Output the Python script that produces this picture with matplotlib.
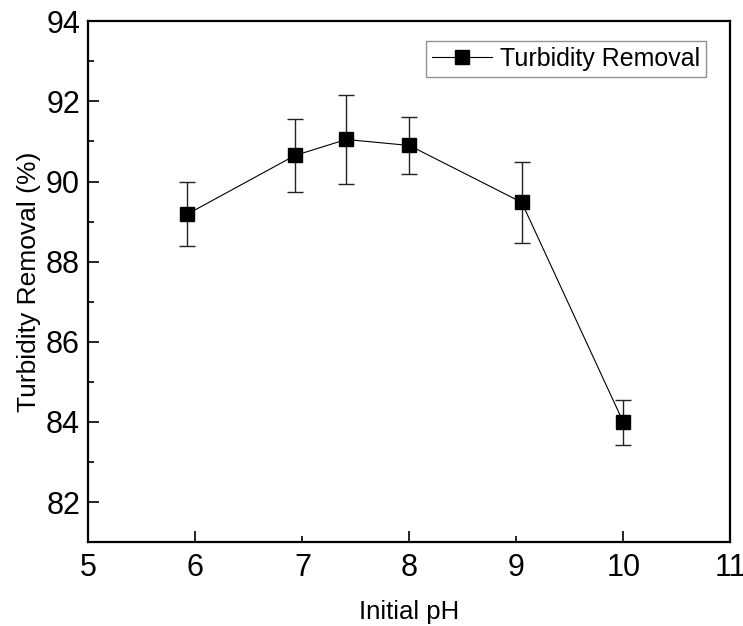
import matplotlib
matplotlib.use('Agg')
import matplotlib.pyplot as plt
from matplotlib.ticker import MultipleLocator

ph = [5.92, 6.93, 7.41, 8.0, 9.05, 10.0]
removal = [89.18, 90.65, 91.05, 90.9, 89.48, 83.99]
err = [0.8, 0.9, 1.1, 0.7, 1.02, 0.56]

plt.rcParams['font.family'] = ['Liberation Sans', 'DejaVu Sans']

fig = plt.figure(figsize=(7.43, 6.26), dpi=100)
ax = fig.add_axes([0.119, 0.134, 0.864, 0.832])

# error bars without a legend entry, then line + markers on top
ax.errorbar(ph, removal, yerr=err, fmt='none', ecolor='#222222',
            elinewidth=1.0, capsize=6, capthick=1.0)
ax.plot(ph, removal, color='black', lw=0.8, marker='s', markersize=10,
        markerfacecolor='black', markeredgecolor='black',
        label='Turbidity Removal')

ax.set_xlim(5, 11)
ax.set_ylim(81, 94)
ax.xaxis.set_major_locator(MultipleLocator(1))
ax.yaxis.set_major_locator(MultipleLocator(2))
ax.yaxis.set_minor_locator(MultipleLocator(1))

ax.tick_params(which='both', direction='in', width=1.2, top=False, right=False)
ax.tick_params(which='major', length=8)
ax.tick_params(which='minor', length=4)
ax.tick_params(axis='x', labelsize=22, pad=8)
ax.tick_params(axis='y', labelsize=22, pad=6)

# odd pH values get a short tick
fig.canvas.draw()
for val, tick in zip(ax.get_xticks(), ax.xaxis.get_major_ticks()):
    if int(round(val)) % 2 == 1:
        tick.tick1line.set_markersize(4)

for s in ax.spines.values():
    s.set_linewidth(1.6)

ax.set_xlabel('Initial pH', fontsize=18.5, labelpad=12)
ax.set_ylabel('Turbidity Removal (%)', fontsize=19, labelpad=4)

leg = ax.legend(loc='upper right', bbox_to_anchor=(0.962, 0.963), fontsize=18,
                frameon=True, fancybox=False, edgecolor='#777777',
                handlelength=2.4, handletextpad=0.3, borderpad=0.25,
                borderaxespad=0)
leg.get_frame().set_linewidth(1.0)

fig.savefig('out.png', dpi=100)
